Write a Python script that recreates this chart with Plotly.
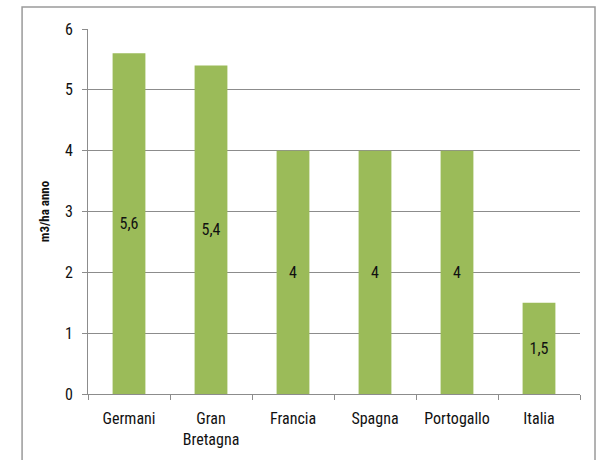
import plotly.graph_objects as go

paesi = ["Germani", "Gran<br>Bretagna", "Francia", "Spagna", "Portogallo", "Italia"]
valori = [5.6, 5.4, 4, 4, 4, 1.5]
etichette = ["5,6", "5,4", "4", "4", "4", "1,5"]
y_ticks = [0, 1, 2, 3, 4, 5, 6]

FONT = "Roboto Condensed, Roboto, sans-serif"
GRID = "#8c8c8c"

fig = go.Figure(
    go.Bar(
        x=paesi,
        y=valori,
        text=etichette,
        textposition="inside",
        insidetextanchor="middle",
        textangle=0,
        textfont=dict(family=FONT, size=16, color="#111111"),
        marker=dict(color="#9BBB59", line=dict(width=0)),
        width=0.4,
        hoverinfo="skip",
    )
)

fig.update_layout(
    width=598,
    height=460,
    margin=dict(l=88, r=18, t=29, b=66),
    paper_bgcolor="white",
    plot_bgcolor="white",
    showlegend=False,
    font=dict(family=FONT, size=14, color="#111111"),
    xaxis=dict(
        type="category",
        showgrid=False,
        showline=True,
        linecolor=GRID,
        linewidth=1,
        ticks="outside",
        tickson="boundaries",
        ticklen=5,
        tickcolor=GRID,
        ticklabelstandoff=10,
        tickfont=dict(family=FONT, size=16, color="#111111"),
    ),
    yaxis=dict(
        range=[0, 6],
        tickvals=y_ticks,
        showgrid=True,
        gridcolor=GRID,
        gridwidth=1,
        showline=True,
        linecolor=GRID,
        linewidth=1,
        ticks="outside",
        ticklen=5,
        tickcolor=GRID,
        zeroline=False,
        ticklabelstandoff=6,
        tickfont=dict(family=FONT, size=16, color="#111111"),
        title=dict(
            text="<b>m3/ha anno</b>",
            font=dict(family=FONT, size=13, color="#111111"),
            standoff=12,
        ),
    ),
    shapes=[
        dict(
            type="rect",
            xref="paper",
            yref="paper",
            x0=-0.134,
            x1=1.0305,
            y0=-0.4,
            y1=1.060,
            line=dict(color="#9a9a9a", width=1.5),
            fillcolor="rgba(0,0,0,0)",
            layer="below",
        )
    ],
)

fig.write_html("out.html")
